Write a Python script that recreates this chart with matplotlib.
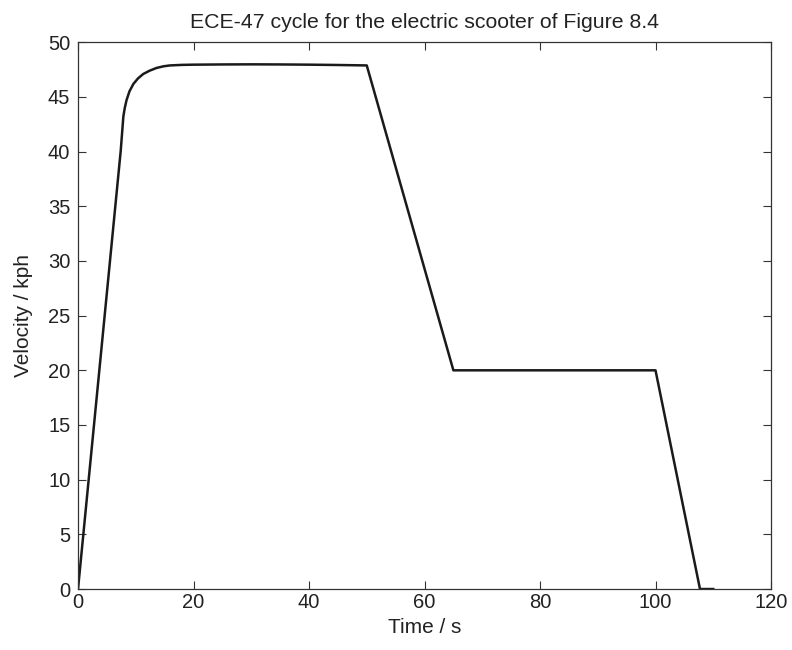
import matplotlib
matplotlib.use('Agg')
import matplotlib.pyplot as plt

# ECE-47 cycle, values
time_s = [0, 7.4, 7.85, 8.1, 8.4, 8.9, 9.6, 10.4, 11.3, 12.4, 13.6, 14.8, 15.9,
          18, 20, 25, 30, 35, 40, 45, 50, 65, 100, 107.7, 110]
velocity_kph = [0, 40.1, 43.2, 44.0, 44.7, 45.5, 46.2, 46.7, 47.1, 47.4, 47.65, 47.8, 47.88,
                47.93, 47.95, 47.97, 47.98, 47.97, 47.95, 47.92, 47.88, 20, 20, 0, 0]

x_ticks = [0, 20, 40, 60, 80, 100, 120]
y_ticks = [0, 5, 10, 15, 20, 25, 30, 35, 40, 45, 50]

plt.rcParams['font.family'] = ['Liberation Sans', 'DejaVu Sans']
tick_fs = 14.5
label_fs = 15

fig = plt.figure(figsize=(7.92, 6.5), dpi=100)
ax = fig.add_axes([0.0985, 0.0938, 0.875, 0.8412])

ax.plot(time_s, velocity_kph, color='#1a1a1a', linewidth=1.8, solid_joinstyle='round')

ax.set_xlim(0, 120)
ax.set_ylim(0, 50)
ax.set_xticks(x_ticks)
ax.set_yticks(y_ticks)
ax.tick_params(direction='in', length=6, width=0.8, color='#333333',
               top=True, right=True, labelsize=tick_fs, labelcolor='#222222')
ax.tick_params(axis='x', pad=3)
ax.tick_params(axis='y', pad=5.5)
for sp in ax.spines.values():
    sp.set_color('#333333')
    sp.set_linewidth(0.9)

ax.set_title('ECE-47 cycle for the electric scooter of Figure 8.4', fontsize=15.3,
             color='#222222', pad=10)
ax.set_xlabel('Time / s', fontsize=label_fs, color='#222222', labelpad=4)
ax.set_ylabel('Velocity / kph', fontsize=label_fs, color='#222222', labelpad=11)

fig.savefig('out.png', dpi=100)
